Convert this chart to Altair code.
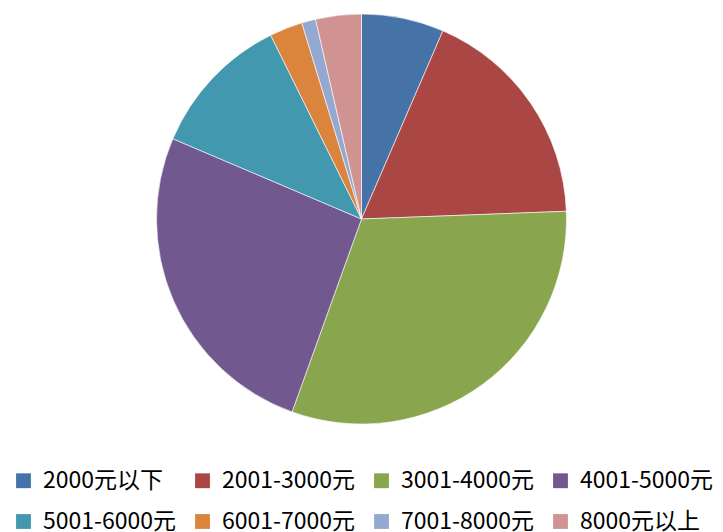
import altair as alt
import pandas as pd

categories = ["2000元以下", "2001-3000元", "3001-4000元", "4001-5000元",
              "5001-6000元", "6001-7000元", "7001-8000元", "8000元以上"]
values = [6.5, 17.9, 31.1, 25.9, 11.3, 2.6, 1.1, 3.6]
colors = ["#4572A7", "#AA4643", "#89A54E", "#71588F",
          "#4198AF", "#DB843D", "#93A9CF", "#D19392"]

df = pd.DataFrame({"category": categories, "value": values,
                   "order": list(range(len(categories)))})

chart = alt.Chart(df).mark_arc(outerRadius=205, stroke="white", strokeWidth=0.6).encode(
    theta=alt.Theta("value:Q", stack=True),
    color=alt.Color("category:N",
                    scale=alt.Scale(domain=categories, range=colors),
                    sort=categories,
                    legend=alt.Legend(title=None, orient="none", legendX=4, legendY=461,
                                      direction="horizontal",
                                      columns=4, symbolType="square", symbolSize=220,
                                      symbolStrokeWidth=0,
                                      labelFont="Noto Sans CJK SC", labelFontSize=23,
                                      labelColor="#000000", rowPadding=17,
                                      columnPadding=14, labelOffset=8,
                                      labelLimit=300)),
    order=alt.Order("order:Q"),
).properties(
    width=707, height=422,
    autosize=alt.AutoSizeParams(type="none"),
    padding={"left": 0, "top": 0, "right": 0, "bottom": 102},
).configure_view(stroke=None)

chart.save("out.html", embed_options={"renderer": "svg", "actions": False})
